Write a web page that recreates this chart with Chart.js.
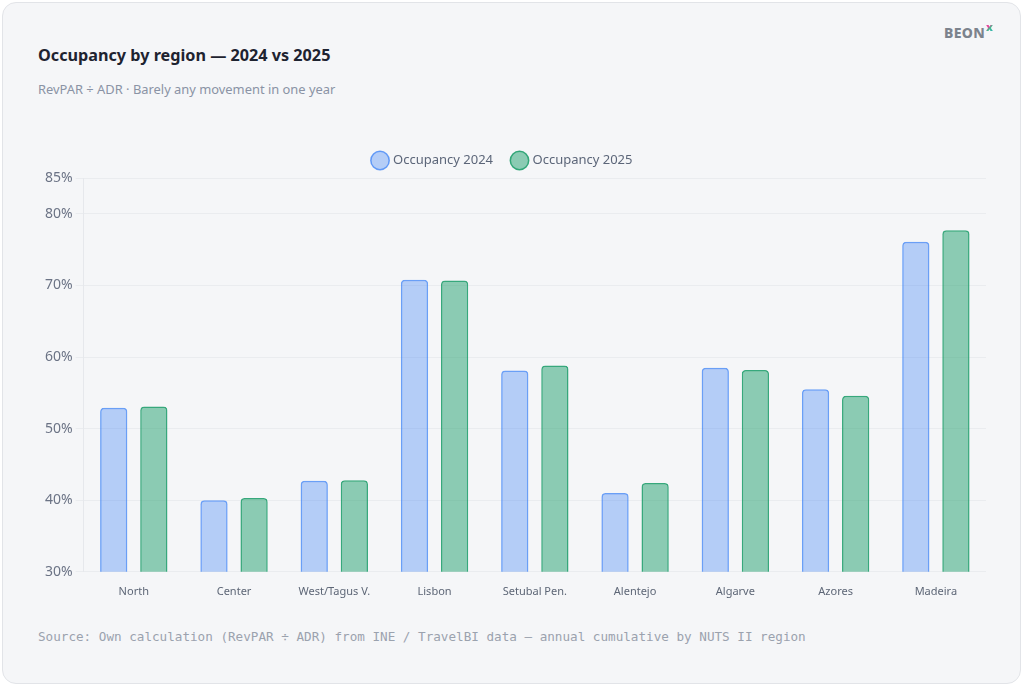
<!DOCTYPE html>
<html>
<head>
<meta charset="utf-8">
<script src="https://cdn.jsdelivr.net/npm/chart.js@4.4.1/dist/chart.umd.min.js"></script>
<style>
    html, body { margin: 0; padding: 0; background: #ffffff; }
    body { width: 1024px; height: 686px; position: relative; overflow: hidden; font-family: "Noto Sans", sans-serif; }
    .card {
        position: absolute; left: 2px; top: 2px; width: 1017px; height: 680px;
        background: #f5f6f8; border: 1px solid #e2e4e8; border-radius: 14px;
    }
    .title { position: absolute; left: 38px; top: 44px; font-size: 16.2px; font-weight: 700; color: #1e2330; }
    .subtitle { position: absolute; left: 38px; top: 80px; font-size: 12.9px; color: #8a93a5; }
    .logo { position: absolute; left: 944px; top: 20px; font-size: 14px; font-weight: 800; color: #7c838d; letter-spacing: 0.3px; }
    .logo sup {
        font-size: 11px; font-weight: 900; margin-left: 1px; position: relative; top: -1px;
        background: linear-gradient(135deg, #e8409a 0%, #e8409a 45%, #3fbf8f 60%, #2aa9c9);
        -webkit-background-clip: text; background-clip: text; color: transparent;
    }
    .source { position: absolute; left: 38px; top: 629px; font-family: "DejaVu Sans Mono", monospace; font-size: 12.63px; color: #9ba2ae; }
    .chart-box { position: absolute; left: 42px; top: 134px; width: 944px; height: 469px; }
</style>
</head>
<body>
<div class="card"></div>
<div class="title">Occupancy by region — 2024 vs 2025</div>
<div class="subtitle">RevPAR ÷ ADR · Barely any movement in one year</div>
<div class="logo">BEON<sup>x</sup></div>
<div class="chart-box"><canvas id="occChart"></canvas></div>
<div class="source">Source: Own calculation (RevPAR ÷ ADR) from INE / TravelBI data — annual cumulative by NUTS II region</div>

<script>
const regions = ['North', 'Center', 'West/Tagus V.', 'Lisbon', 'Setubal Pen.', 'Alentejo', 'Algarve', 'Azores', 'Madeira'];
const occupancy2024 = [52.9, 40.0, 42.7, 70.8, 58.1, 41.0, 58.5, 55.5, 76.1];
const occupancy2025 = [53.1, 40.3, 42.8, 70.7, 58.8, 42.4, 58.2, 54.6, 77.7];
const yTicks = [30, 40, 50, 60, 70, 80, 85];

// a bit more room under the legend, and legend nudged left
const legendTweak = {
    id: 'legendTweak',
    beforeInit(chart) {
        const fit = chart.legend.fit;
        chart.legend.fit = function() {
            fit.bind(chart.legend)();
            this.height += 1;
        };
    },
    afterLayout(chart) {
        chart.legend.left -= 11;
        chart.legend.right -= 11;
    }
};

const ctx = document.getElementById('occChart').getContext('2d');
const occChart = new Chart(ctx, {
    type: 'bar',
    data: {
        labels: regions,
        datasets: [{
            label: 'Occupancy 2024',
            data: occupancy2024,
            backgroundColor: 'rgba(59, 130, 246, 0.35)',
            borderColor: 'rgba(59, 130, 246, 0.75)',
            borderWidth: 1.5,
            borderRadius: 4,
            borderSkipped: 'bottom'
        }, {
            label: 'Occupancy 2025',
            data: occupancy2025,
            backgroundColor: 'rgba(34, 160, 110, 0.5)',
            borderColor: 'rgba(34, 160, 110, 0.9)',
            borderWidth: 1.5,
            borderRadius: 4,
            borderSkipped: 'bottom'
        }]
    },
    options: {
        responsive: true,
        maintainAspectRatio: false,
        animation: false,
        categoryPercentage: 0.8,
        barPercentage: 0.68,
        layout: { padding: 0 },
        plugins: {
            legend: {
                position: 'top',
                labels: {
                    usePointStyle: true,
                    pointStyle: 'circle',
                    color: '#5c6679',
                    font: { family: 'Noto Sans', size: 13 },
                    padding: 20
                }
            },
            tooltip: { enabled: false }
        },
        scales: {
            x: {
                grid: { display: false },
                border: { display: false },
                ticks: {
                    color: '#5d6676',
                    font: { family: 'Noto Sans', size: 11 },
                    padding: 5
                }
            },
            y: {
                min: 30,
                max: 85,
                afterBuildTicks: axis => {
                    axis.ticks = yTicks.map(v => ({ value: v }));
                },
                grid: { color: '#eaecef' },
                border: { color: '#e6e8ec' },
                ticks: {
                    color: '#6b7385',
                    font: { family: 'Noto Sans', size: 14 },
                    callback: value => value + '%'
                }
            }
        }
    },
    plugins: [legendTweak]
});
</script>
</body>
</html>
